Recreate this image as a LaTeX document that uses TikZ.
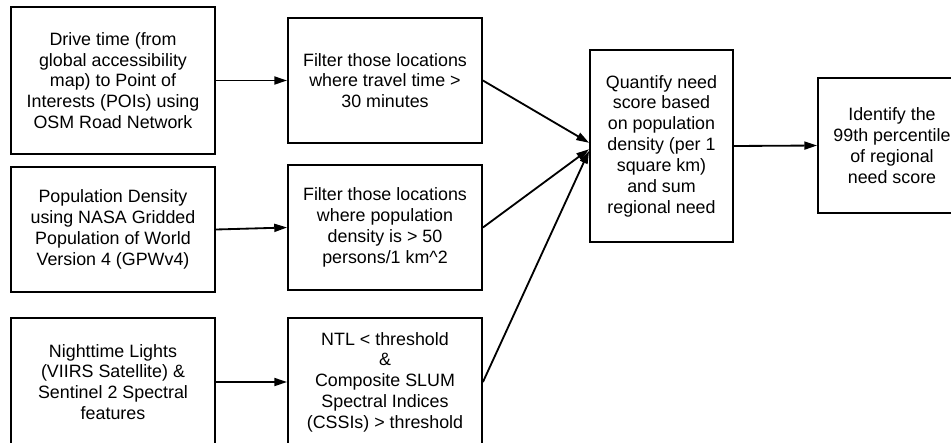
\documentclass[tikz,border=0pt]{standalone}
\usepackage{fontspec}
\setmainfont{Liberation Sans}
\usetikzlibrary{arrows.meta}
\begin{document}
\begin{tikzpicture}[x=0.025cm, y=-0.025cm,
		box/.style={draw, line width=1.3pt, align=center, inner sep=0pt,
			font=\fontsize{12.7}{14.8}\selectfont},
		arr/.style={line width=1.3pt, -{Triangle[length=3.2mm,width=2mm]}}
		]
	\useasboundingbox (0,0) rectangle (951,442);
	\clip (0,0) rectangle (951,442);
	% inputs
	\node [box, minimum width=5.1cm, minimum height=3.675cm] (a1) at (113,80.5)
		{Drive time (from\\global accessibility\\map) to Point of\\Interests (POIs) using\\OSM Road Network};
	\node [box, minimum width=5.1cm, minimum height=3.125cm] (a2) at (113,229.5)
		{Population Density\\using NASA Gridded\\Population of World\\Version 4 (GPWv4)};
	\node [box, minimum width=5.1cm, minimum height=3.2cm] (a3) at (113,382)
		{Nighttime Lights\\(VIIRS Satellite) \&\\Sentinel 2 Spectral\\features};
	% filters
	\node [box, minimum width=4.85cm, minimum height=3.125cm] (f1) at (385,80.5)
		{Filter those locations\\where travel time >\\30 minutes};
	\node [box, minimum width=4.85cm, minimum height=3.125cm] (f2) at (385,227.5)
		{Filter those locations\\where population\\density is > 50\\persons/1 km\^{}2};
	\node [box, minimum width=4.85cm, minimum height=3.2cm] (f3) at (385,382)
		{NTL < threshold\\\&\\Composite SLUM\\Spectral Indices\\(CSSIs) > threshold};
	% need score
	\node [box, minimum width=3.575cm, minimum height=4.8cm] (q) at (661.5,146)
		{Quantify need\\score based\\on population\\density (per 1\\square km)\\and sum\\regional need};
	\node [box, minimum width=3.7cm, minimum height=3.375cm] (p) at (892,145.5)
		{Identify the\\99th percentile\\of regional\\need score};

	\draw [arr] (a1.east) -- (f1.west);
	\draw [arr] (a2.east) -- (f2.west);
	\draw [arr] (a3.east) -- (f3.west);
	\draw [arr] (f1.east) -- ([yshift=0.08cm]q.west);
	\draw [arr] (f2.east) -- ([yshift=-0.08cm]q.west);
	\draw [arr] (f3.east) -- ([yshift=-0.12cm]q.west);
	\draw [arr] (q.east) -- (p.west);
\end{tikzpicture}
\end{document}
